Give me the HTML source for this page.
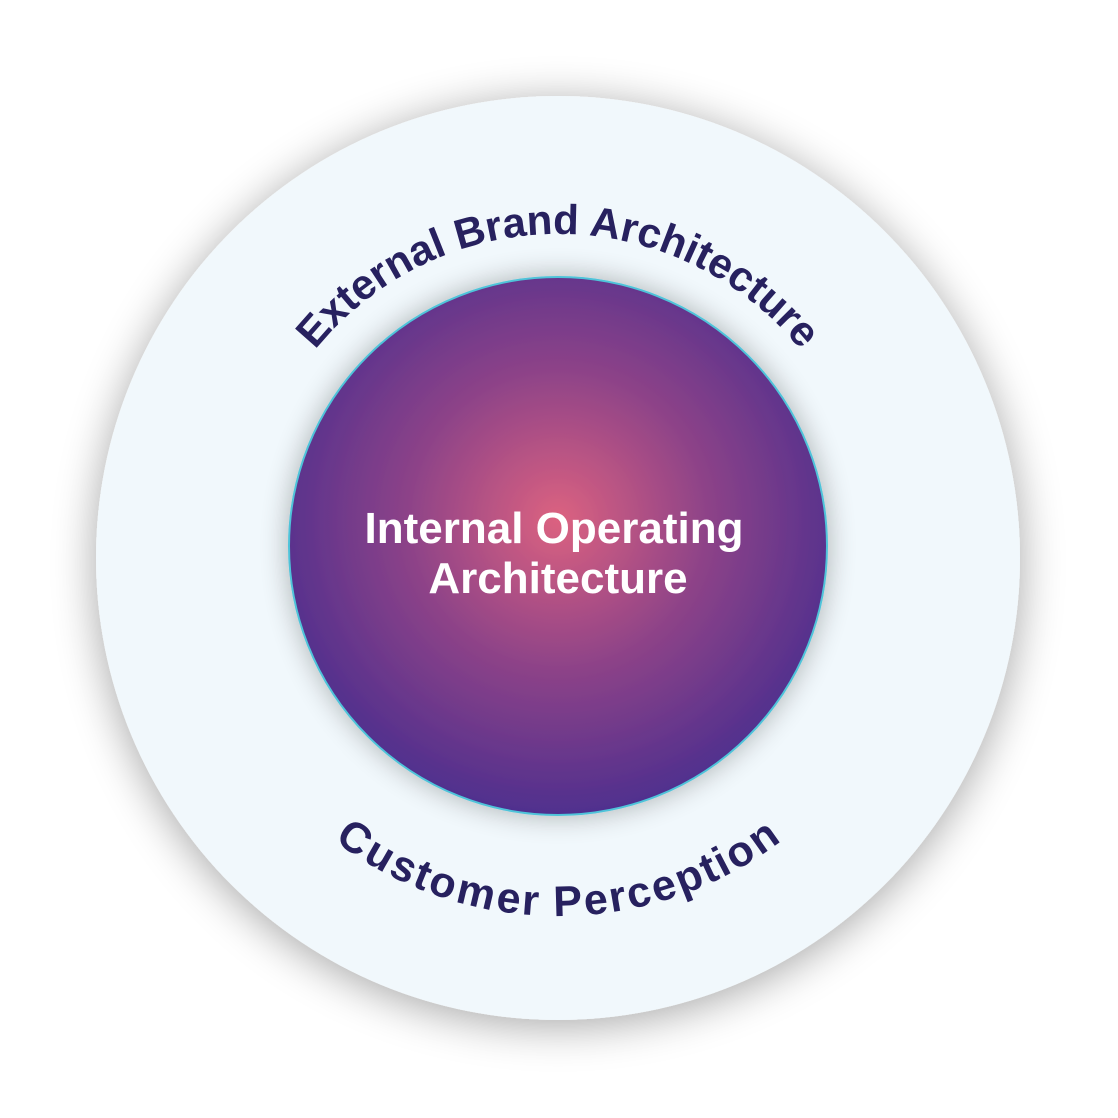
<!DOCTYPE html>
<html><head><meta charset="utf-8"><style>
html,body{margin:0;padding:0;background:#fff;}
svg{display:block;}
</style></head><body>
<svg width="1118" height="1118" viewBox="0 0 1118 1118" xmlns="http://www.w3.org/2000/svg">
<defs>
<filter id="sh" x="-20%" y="-20%" width="140%" height="140%">
<feGaussianBlur in="SourceAlpha" stdDeviation="22"/>
<feOffset dx="0" dy="6"/>
<feComponentTransfer><feFuncA type="linear" slope="0.35"/></feComponentTransfer>
<feMerge><feMergeNode/><feMergeNode in="SourceGraphic"/></feMerge>
</filter>
<filter id="sh2" x="-20%" y="-20%" width="140%" height="140%">
<feGaussianBlur in="SourceAlpha" stdDeviation="14"/>
<feComponentTransfer><feFuncA type="linear" slope="0.3"/></feComponentTransfer>
<feMerge><feMergeNode/><feMergeNode in="SourceGraphic"/></feMerge>
</filter>
<radialGradient id="g" cx="50%" cy="45%" r="55%">
<stop offset="0" stop-color="#dc6280"/>
<stop offset="0.5" stop-color="#8e4388"/>
<stop offset="1" stop-color="#4f2f8e"/>
</radialGradient>
<path id="top" d="M 246 546 A 312 312 0 0 1 870 546"/>
<path id="bot" d="M 218 546 A 340 340 0 0 0 898 546"/>
</defs>
<circle cx="558" cy="558" r="462" fill="#f1f8fc" filter="url(#sh)"/>
<circle cx="558" cy="546" r="269" fill="url(#g)" stroke="#4fc3d9" stroke-width="2" filter="url(#sh2)"/>
<g font-family="Liberation Sans, sans-serif" font-weight="bold" fill="#27215f" font-size="42">
<text><textPath href="#top" startOffset="50%" text-anchor="middle">External Brand Architecture</textPath></text>
<text dominant-baseline="hanging" letter-spacing="0.5" font-size="43"><textPath href="#bot" startOffset="50%" text-anchor="middle">Customer Perception</textPath></text>
</g>
<g font-family="Liberation Sans, sans-serif" font-weight="bold" fill="#fff" font-size="44" text-anchor="middle">
<text x="554" y="543">Internal Operating</text>
<text x="558" y="593">Architecture</text>
</g>
</svg>
</body></html>
